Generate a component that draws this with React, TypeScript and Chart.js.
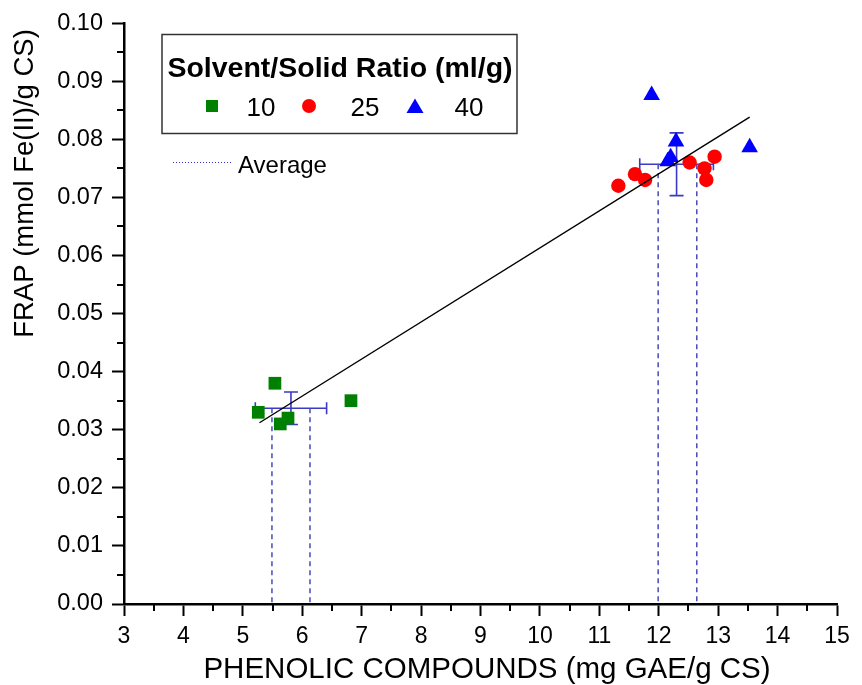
import React, { useEffect, useRef } from 'react';
import { Chart, registerables } from 'chart.js';

Chart.register(...registerables);

// ---------- data ----------
const ratio10X = [5.26, 5.54, 5.63, 5.76, 6.82];
const ratio10Y = [0.033, 0.038, 0.031, 0.032, 0.035];
const ratio25X = [11.32, 11.6, 11.77, 12.52, 12.77, 12.8, 12.94];
const ratio25Y = [0.072, 0.074, 0.073, 0.076, 0.075, 0.073, 0.077];
const ratio40X = [11.88, 12.29, 12.15, 12.2, 13.53];
const ratio40Y = [0.0876, 0.0796, 0.0762, 0.0769, 0.0786];
const fitX = [5.28, 13.53];
const fitY = [0.0312, 0.0838];
const groupMeanX = [5.81, 12.3];
const groupMeanY = [0.0337, 0.0757];
const groupErrX = [0.6, 0.62];
const groupErrY = [0.0028, 0.0054];
const averageX = [5.49, 6.13, 11.99, 12.64];
const averageTop = [0.0337, 0.0337, 0.0757, 0.0757];
const seriesLabels = ['10', '25', '40'];
const legendTitle = 'Solvent/Solid Ratio (ml/g)';
const averageLabel = 'Average';
const xTitle = 'PHENOLIC COMPOUNDS (mg GAE/g CS)';
const yTitle = 'FRAP (mmol Fe(II)/g CS)';
const xRange = [3, 15];
const yRange = [0, 0.1];
const xStep = 1;
const yStep = 0.01;

const FONT = '"Liberation Sans", Arial, Helvetica, sans-serif';
const GREEN = '#008000';
const RED = '#ff0000';
const BLUE = '#0000ff';
const ERR = '#3a3ac4';
const AVG = '#4a4ab8';

const pts = (xs: number[], ys: number[]) => xs.map((x, i) => ({ x, y: ys[i] }));

const minorTicks = {
  id: 'minorTicks',
  afterDraw(chart: any) {
    const ctx = chart.ctx;
    const xs = chart.scales.x;
    const ys = chart.scales.y;
    ctx.save();
    ctx.strokeStyle = '#000';
    ctx.lineWidth = 2;
    const xt = xs.ticks;
    for (let i = 0; i < xt.length - 1; i++) {
      const v = (xt[i].value + xt[i + 1].value) / 2;
      const p = Math.round(xs.getPixelForValue(v));
      ctx.beginPath();
      ctx.moveTo(p, xs.top);
      ctx.lineTo(p, xs.top + 7);
      ctx.stroke();
    }
    const yt = ys.ticks;
    for (let i = 0; i < yt.length - 1; i++) {
      const v = (yt[i].value + yt[i + 1].value) / 2;
      const p = Math.round(ys.getPixelForValue(v));
      ctx.beginPath();
      ctx.moveTo(ys.right, p);
      ctx.lineTo(ys.right - 7, p);
      ctx.stroke();
    }
    ctx.restore();
  },
};

const errorBars = {
  id: 'errorBars',
  beforeDatasetsDraw(chart: any) {
    const ctx = chart.ctx;
    const xs = chart.scales.x;
    const ys = chart.scales.y;
    ctx.save();
    ctx.strokeStyle = ERR;
    ctx.lineWidth = 1.6;
    for (let i = 0; i < groupMeanX.length; i++) {
      const cx = xs.getPixelForValue(groupMeanX[i]);
      const cy = ys.getPixelForValue(groupMeanY[i]);
      const x0 = xs.getPixelForValue(groupMeanX[i] - groupErrX[i]);
      const x1 = xs.getPixelForValue(groupMeanX[i] + groupErrX[i]);
      const y0 = ys.getPixelForValue(groupMeanY[i] - groupErrY[i]);
      const y1 = ys.getPixelForValue(groupMeanY[i] + groupErrY[i]);
      ctx.beginPath();
      ctx.moveTo(x0, cy); ctx.lineTo(x1, cy);
      ctx.moveTo(x0, cy - 6); ctx.lineTo(x0, cy + 6);
      ctx.moveTo(x1, cy - 6); ctx.lineTo(x1, cy + 6);
      ctx.moveTo(cx, y0); ctx.lineTo(cx, y1);
      ctx.moveTo(cx - 7, y0); ctx.lineTo(cx + 7, y0);
      ctx.moveTo(cx - 7, y1); ctx.lineTo(cx + 7, y1);
      ctx.stroke();
    }
    ctx.restore();
  },
};

const annotations = {
  id: 'annotations',
  afterDraw(chart: any) {
    const ctx = chart.ctx;
    ctx.save();
    // legend box
    ctx.strokeStyle = '#333';
    ctx.lineWidth = 1.5;
    ctx.strokeRect(162, 34.5, 355, 99);
    ctx.fillStyle = '#000';
    ctx.textAlign = 'center';
    ctx.textBaseline = 'alphabetic';
    ctx.font = `bold 28.5px ${FONT}`;
    ctx.fillText(legendTitle, 340, 77);
    // items
    ctx.font = `26px ${FONT}`;
    ctx.fillStyle = GREEN;
    ctx.fillRect(212 - 6, 106 - 6, 12, 12);
    ctx.fillStyle = RED;
    ctx.beginPath();
    ctx.arc(309, 106, 7, 0, Math.PI * 2);
    ctx.fill();
    ctx.fillStyle = BLUE;
    ctx.beginPath();
    ctx.moveTo(415, 98.5);
    ctx.lineTo(423.5, 113);
    ctx.lineTo(406.5, 113);
    ctx.closePath();
    ctx.fill();
    ctx.fillStyle = '#000';
    ctx.fillText(seriesLabels[0], 261, 115.5);
    ctx.fillText(seriesLabels[1], 365, 115.5);
    ctx.fillText(seriesLabels[2], 469, 115.5);
    // average entry
    ctx.strokeStyle = '#3333cc';
    ctx.lineWidth = 1;
    ctx.setLineDash([1, 2]);
    ctx.beginPath();
    ctx.moveTo(173, 162.5);
    ctx.lineTo(231, 162.5);
    ctx.stroke();
    ctx.setLineDash([]);
    ctx.textAlign = 'left';
    ctx.font = `24px ${FONT}`;
    ctx.fillText(averageLabel, 238, 173);
    // axis titles
    ctx.font = `29.5px ${FONT}`;
    ctx.textAlign = 'center';
    ctx.fillText(xTitle, 487, 678);
    ctx.translate(33, 183.5);
    ctx.rotate(-Math.PI / 2);
    ctx.font = `27.5px ${FONT}`;
    ctx.fillText(yTitle, 0, 0);
    ctx.restore();
  },
};

export default function App() {
  const ref = useRef<HTMLCanvasElement>(null);
  useEffect(() => {
    if (!ref.current) return;
    const avgSets = averageX.map((x, i) => ({
      type: 'line' as const,
      data: [{ x, y: averageTop[i] }, { x, y: yRange[0] }],
      borderColor: AVG,
      borderWidth: 1.5,
      borderDash: [5, 4],
      pointRadius: 0,
      showLine: true,
      fill: false,
      order: 5,
    }));
    const chart = new Chart(ref.current, {
      type: 'scatter',
      data: {
        datasets: [
          {
            type: 'line',
            data: pts(fitX, fitY),
            borderColor: '#000',
            borderWidth: 1.4,
            pointRadius: 0,
            showLine: true,
            fill: false,
            order: 0,
          },
          {
            label: seriesLabels[0],
            data: pts(ratio10X, ratio10Y),
            pointStyle: 'rect',
            pointRadius: 9,
            backgroundColor: GREEN,
            borderColor: GREEN,
            borderWidth: 0,
            order: 1,
          },
          {
            label: seriesLabels[1],
            data: pts(ratio25X, ratio25Y),
            pointStyle: 'circle',
            pointRadius: 7.2,
            backgroundColor: RED,
            borderColor: RED,
            borderWidth: 0,
            order: 2,
          },
          {
            label: seriesLabels[2],
            data: pts(ratio40X, ratio40Y),
            pointStyle: 'triangle',
            pointRadius: 9.6,
            backgroundColor: BLUE,
            borderColor: BLUE,
            borderWidth: 0,
            order: 3,
          },
          ...avgSets,
        ] as any,
      },
      options: {
        animation: false,
        responsive: false,
        devicePixelRatio: 1,
        layout: { padding: { top: 21, right: 25, left: 0, bottom: 0 } },
        plugins: { legend: { display: false }, tooltip: { enabled: false } },
        scales: {
          x: {
            type: 'linear',
            min: xRange[0],
            max: xRange[1],
            ticks: {
              stepSize: xStep,
              color: '#000',
              font: { family: FONT, size: 23 },
              padding: 7,
              maxRotation: 0,
              autoSkip: false,
            },
            grid: { drawOnChartArea: false, drawTicks: true, tickLength: 12, tickWidth: 2, tickColor: '#000' },
            border: { color: '#000', width: 2.5 },
            afterFit: (s: any) => { s.height = 81; },
          },
          y: {
            type: 'linear',
            min: yRange[0],
            max: yRange[1],
            ticks: {
              stepSize: yStep,
              color: '#000',
              font: { family: FONT, size: 23.5 },
              padding: 9,
              autoSkip: false,
              callback: (v: any) => Number(v).toFixed(2),
            },
            grid: { drawOnChartArea: false, drawTicks: true, tickLength: 12, tickWidth: 2, tickColor: '#000' },
            border: { color: '#000', width: 2.5 },
            afterFit: (s: any) => { s.width = 124; },
          },
        },
      },
      plugins: [minorTicks, errorBars, annotations],
    });
    return () => chart.destroy();
  }, []);
  return (
    <div style={{ position: 'absolute', left: 0, top: 0, width: 862, height: 685, background: '#fff' }}>
      <canvas ref={ref} width={862} height={685} style={{ display: 'block' }} />
    </div>
  );
}
